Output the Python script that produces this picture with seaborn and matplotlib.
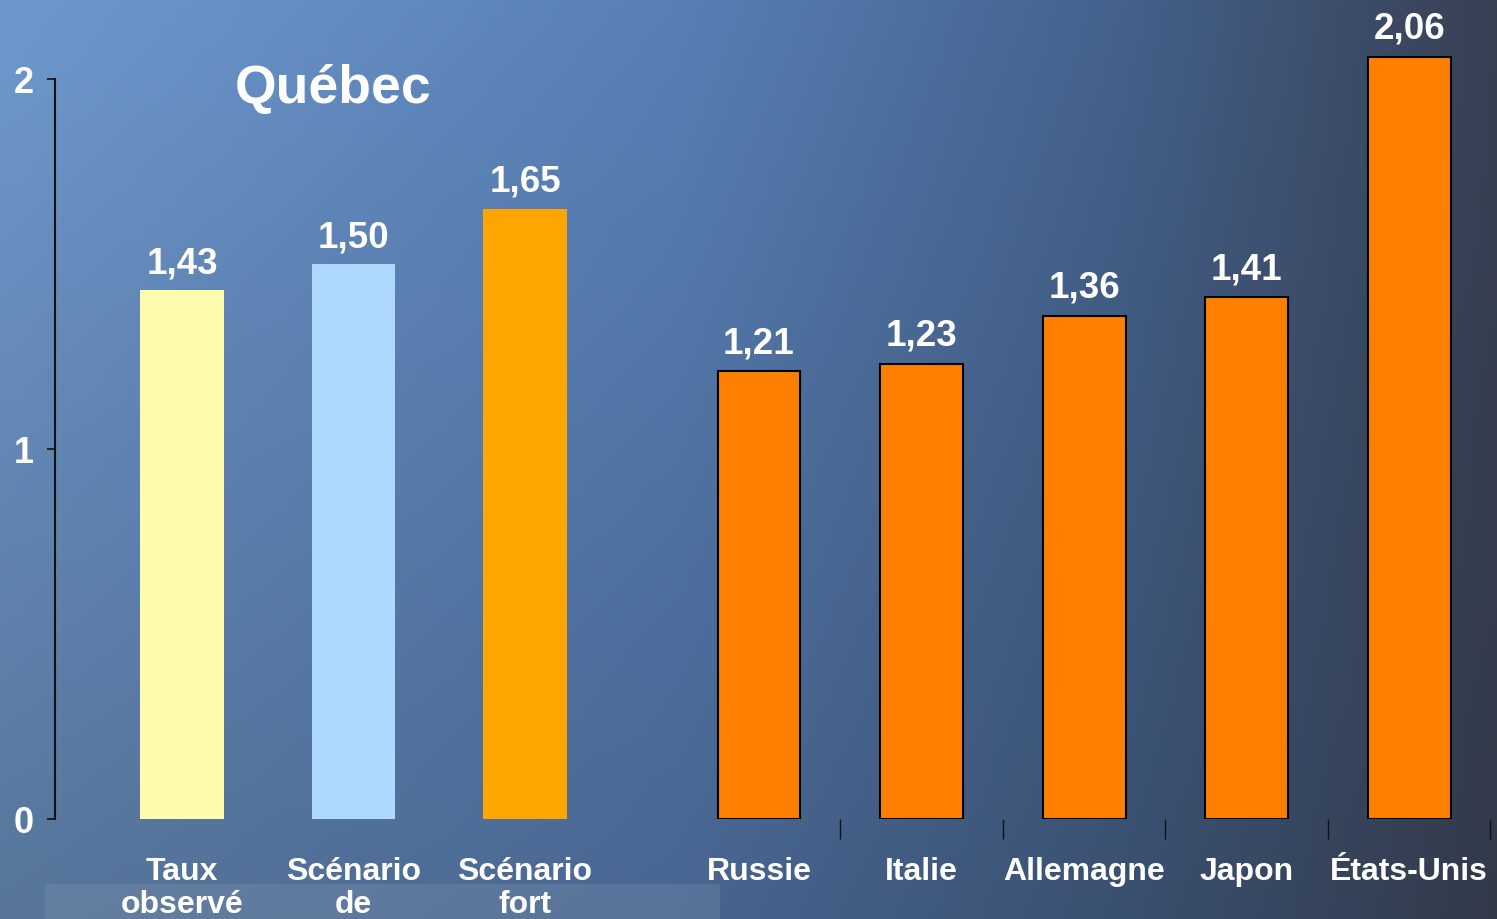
import numpy as np
import matplotlib
matplotlib.use("Agg")
import matplotlib.pyplot as plt
import seaborn as sns

# ---- data ----
quebec_labels = ["Taux\nobservé", "Scénario\nde", "Scénario\nfort"]
quebec_values = [1.43, 1.50, 1.65]
quebec_colors = ["#FFFCAE", "#ADD8FF", "#FFA500"]

countries = ["Russie", "Italie", "Allemagne", "Japon", "États-Unis"]
country_values = [1.21, 1.23, 1.36, 1.41, 2.06]
country_color = "#FF7F00"

yticks = [0, 1, 2]
title = "Québec"

sns.set_theme(style="white")
plt.rcParams["font.family"] = ["Liberation Sans", "DejaVu Sans"]
plt.rcParams["font.weight"] = "bold"

W, H = 1497, 920
fig = plt.figure(figsize=(W / 100, H / 100), dpi=100)

# ---- background gradient ----
bg = fig.add_axes([0, 0, 1, 1], zorder=-10)
xs = np.linspace(0, 1, 300)
ys = np.linspace(0, 1, 200)
stops_x = [0.0, 0.45, 0.75, 1.0]
top_cols = np.array([[110, 152, 205], [88, 128, 182], [68, 98, 140], [56, 64, 84]]) / 255
bot_cols = np.array([[88, 118, 155], [72, 102, 145], [58, 80, 112], [50, 58, 74]]) / 255
img = np.zeros((len(ys), len(xs), 3))
for c in range(3):
    top = np.interp(xs, stops_x, top_cols[:, c])
    bot = np.interp(xs, stops_x, bot_cols[:, c])
    img[:, :, c] = top[None, :] * (1 - ys[:, None]) + bot[None, :] * ys[:, None]
bg.imshow(img, extent=[0, W, H, 0], aspect="auto")
bg.add_patch(plt.Rectangle((45, 885), 675, 35, color="#8296b0", alpha=0.3, lw=0))
bg.set_xlim(0, W)
bg.set_ylim(H, 0)
bg.axis("off")

# ---- geometry ----
base_px = 820
unit_px = 370
ytop = 2.2
ax_bottom = (H - base_px) / H
ax_height = ytop * unit_px / H

ax1 = fig.add_axes([55 / W, ax_bottom, 555 / W, ax_height])
ax2 = fig.add_axes([600 / W, ax_bottom, 897 / W, ax_height])
for ax in (ax1, ax2):
    ax.set_facecolor("none")
    ax.set_ylim(0, ytop)
    for s in ax.spines.values():
        s.set_visible(False)

# ---- Québec bars ----
sns.barplot(x=quebec_labels, y=quebec_values, hue=quebec_labels,
            palette=quebec_colors, legend=False, width=0.484,
            linewidth=0, saturation=1, ax=ax1)
ax1.set_xlim(-0.7405, 2.4956)
ax1.spines["left"].set_visible(True)
ax1.spines["left"].set_color("#111111")
ax1.spines["left"].set_linewidth(1.5)
ax1.spines["left"].set_bounds(0, 2)
ax1.set_yticks(yticks, labels=[str(t) for t in yticks])
ax1.tick_params(axis="y", left=True, length=6, width=1.2, color="#111111",
                pad=9, labelsize=26, labelcolor="white")
ax1.tick_params(axis="x", bottom=False, length=0, pad=27, labelsize=23,
                labelcolor="white")
for lab in ax1.get_xticklabels():
    lab.set_linespacing(1.1)
    lab.set_va("top")
for lab in ax1.get_yticklabels() + ax1.get_xticklabels():
    lab.set_fontweight("bold")
ax1.set_xlabel("")
ax1.set_ylabel("")
for cont in ax1.containers:
    ax1.bar_label(cont, labels=[f"{v:.2f}".replace(".", ",") for v in cont.datavalues],
                  padding=7, color="white", fontsize=26.5, fontweight="bold")

# ---- country bars ----
sns.barplot(x=countries, y=country_values, color=country_color, saturation=1,
            edgecolor="black", linewidth=1.5, width=0.51, ax=ax2)
ax2.set_xlim(-0.978, 4.54)
ax2.set_yticks([])
ax2.set_xticks([i + 0.5 for i in range(len(countries))],
               labels=[""] * len(countries))
ax2.set_xticks(range(len(countries)), labels=countries, minor=True)
ax2.tick_params(axis="x", which="major", bottom=True, direction="out",
                length=14.5, width=1.0, color="#111111")
ax2.tick_params(axis="x", which="minor", bottom=True, length=0, pad=27,
                labelsize=23, labelcolor="white")
for lab in ax2.get_xticklabels(minor=True):
    lab.set_fontweight("bold")
ax2.set_xlabel("")
ax2.set_ylabel("")
for cont in ax2.containers:
    ax2.bar_label(cont, labels=[f"{v:.2f}".replace(".", ",") for v in cont.datavalues],
                  padding=8, color="white", fontsize=26.5, fontweight="bold")

fig.text(333 / W, 1 - 89 / H, title, ha="center", va="center",
         color="white", fontsize=38.5, fontweight="bold")

fig.savefig("out.png", dpi=100)
